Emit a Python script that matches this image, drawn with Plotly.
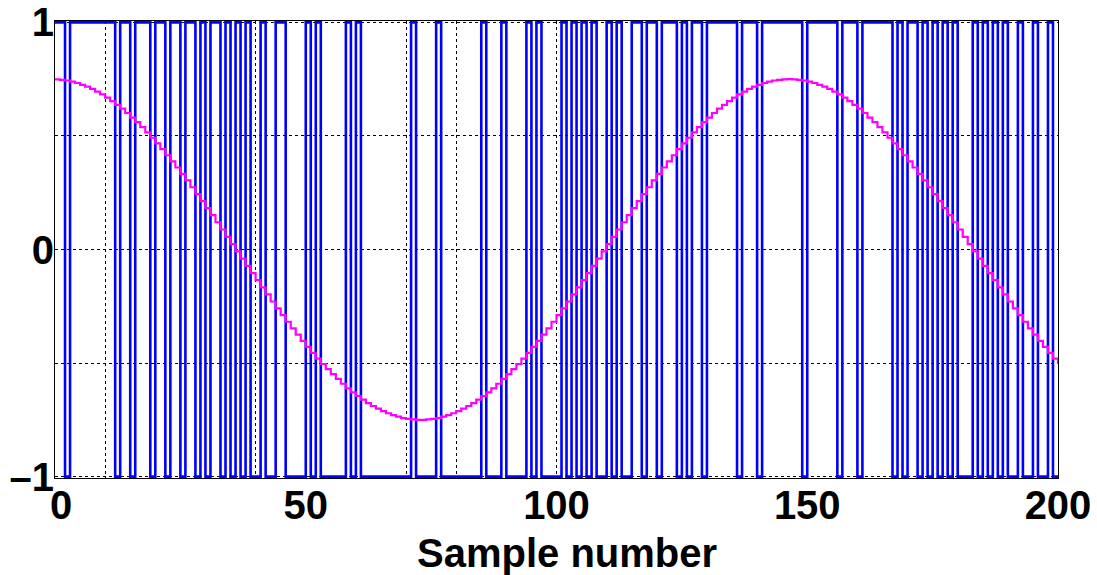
import plotly.graph_objects as go

# sample index
samples = list(range(201))

# 1-bit modulator output
bits = [
    1, 1, -1, 1, 1, 1, 1, 1, 1, 1, 1, 1, -1, 1, 1, -1, 1, 1, 1, -1,
    1, 1, -1, 1, 1, -1, 1, 1, -1, 1, -1, 1, 1, -1, 1, -1, 1, -1, 1, -1,
    -1, 1, -1, -1, 1, 1, -1, -1, -1, -1, 1, -1, 1, -1, -1, -1, -1, -1, 1, -1,
    1, -1, -1, -1, -1, -1, -1, -1, -1, -1, -1, 1, -1, -1, -1, -1, 1, -1, -1, -1,
    -1, -1, -1, -1, -1, 1, -1, -1, -1, 1, -1, -1, -1, -1, 1, -1, 1, -1, -1, -1,
    -1, 1, -1, 1, -1, 1, -1, 1, -1, -1, 1, -1, 1, -1, -1, 1, 1, -1, 1, 1,
    -1, 1, 1, 1, -1, 1, -1, 1, 1, -1, 1, 1, 1, 1, 1, 1, -1, 1, 1, 1,
    -1, 1, 1, 1, 1, 1, 1, 1, 1, -1, 1, 1, 1, 1, 1, 1, -1, 1, 1, 1,
    -1, 1, 1, 1, 1, 1, 1, -1, 1, -1, 1, 1, -1, 1, -1, 1, -1, 1, -1, 1,
    -1, -1, -1, 1, -1, 1, -1, 1, -1, 1, -1, -1, 1, -1, -1, 1, -1, -1, 1, -1,
    -1,
]

# input signal samples
signal = [
    0.749, 0.747, 0.744, 0.739, 0.733, 0.725, 0.717, 0.707, 0.695, 0.683,
    0.669, 0.653, 0.637, 0.620, 0.601, 0.581, 0.561, 0.539, 0.516, 0.492,
    0.467, 0.442, 0.415, 0.388, 0.361, 0.333, 0.304, 0.274, 0.244, 0.213,
    0.182, 0.151, 0.120, 0.088, 0.056, 0.024, -0.008, -0.040, -0.072, -0.104,
    -0.135, -0.167, -0.198, -0.229, -0.259, -0.289, -0.318, -0.347, -0.375, -0.402,
    -0.429, -0.455, -0.480, -0.504, -0.527, -0.549, -0.570, -0.591, -0.611, -0.629,
    -0.645, -0.661, -0.676, -0.689, -0.701, -0.712, -0.721, -0.729, -0.736, -0.742,
    -0.746, -0.748, -0.750, -0.750, -0.748, -0.746, -0.742, -0.736, -0.729, -0.721,
    -0.712, -0.701, -0.689, -0.676, -0.661, -0.645, -0.629, -0.611, -0.591, -0.570,
    -0.549, -0.527, -0.504, -0.480, -0.455, -0.429, -0.402, -0.375, -0.347, -0.318,
    -0.289, -0.259, -0.229, -0.198, -0.167, -0.135, -0.104, -0.072, -0.040, -0.008,
    0.024, 0.056, 0.088, 0.120, 0.151, 0.182, 0.213, 0.244, 0.274, 0.304,
    0.333, 0.361, 0.388, 0.415, 0.442, 0.467, 0.492, 0.516, 0.539, 0.561,
    0.581, 0.601, 0.620, 0.637, 0.653, 0.669, 0.683, 0.695, 0.707, 0.717,
    0.725, 0.733, 0.739, 0.744, 0.747, 0.749, 0.750, 0.749, 0.747, 0.744,
    0.739, 0.733, 0.725, 0.717, 0.707, 0.695, 0.683, 0.669, 0.653, 0.637,
    0.620, 0.601, 0.581, 0.561, 0.539, 0.516, 0.492, 0.467, 0.442, 0.415,
    0.388, 0.361, 0.333, 0.304, 0.274, 0.244, 0.213, 0.182, 0.151, 0.120,
    0.088, 0.056, 0.024, -0.008, -0.040, -0.072, -0.104, -0.135, -0.167, -0.198,
    -0.229, -0.259, -0.289, -0.318, -0.347, -0.375, -0.402, -0.429, -0.455, -0.480,
    -0.504,
]

x_tickvals = list(range(0, 201, 10))
x_labels = {0: "0", 50: "50", 100: "100", 150: "150", 200: "200"}
# the "0" label sits a little right of its tick in the reference; drawn as an annotation
x_ticktext = [x_labels.get(v, "") if v != 0 else "" for v in x_tickvals]
y_tickvals = [-1, -0.5, 0, 0.5, 1]
y_ticktext = ["\u20131", "", "0", "", "1"]
x_title = "Sample number"

FONT = "Liberation Sans, Arial, Helvetica, sans-serif"

fig = go.Figure()
fig.add_trace(go.Scatter(
    x=samples, y=bits, mode="lines", line=dict(shape="hv", color="#0000ff", width=2.6),
    showlegend=False, hoverinfo="skip",
))
fig.add_trace(go.Scatter(
    x=samples, y=signal, mode="lines", line=dict(shape="hv", color="#ff00ff", width=2.2),
    showlegend=False, hoverinfo="skip",
))

fig.update_layout(
    width=1097, height=575,
    margin=dict(l=55, r=39, t=21, b=97, autoexpand=False),
    paper_bgcolor="white", plot_bgcolor="white",
    font=dict(family=FONT, size=40, color="black", weight="bold"),
    xaxis=dict(
        range=[0, 200], tickvals=x_tickvals, ticktext=x_ticktext,
        showline=True, mirror=True, linecolor="black", linewidth=1,
        showgrid=True, gridcolor="black", griddash="dot", gridwidth=1,
        zeroline=False, ticks="", ticklabelstandoff=-8, automargin=False,
        tickfont=dict(family=FONT, size=40, weight="bold"),
    ),
    yaxis=dict(
        range=[-1.006, 1.006], tickvals=y_tickvals, ticktext=y_ticktext,
        showline=True, mirror=True, linecolor="black", linewidth=1,
        showgrid=True, gridcolor="black", griddash="dot", gridwidth=1,
        zeroline=False, ticks="", ticklabelstandoff=-8, automargin=False,
        tickfont=dict(family=FONT, size=40, weight="bold"),
    ),
    annotations=[
        dict(
            text=x_labels[0], xref="x", yref="paper", x=0, y=-0.059, xshift=6,
            xanchor="center", yanchor="middle", showarrow=False,
            font=dict(family=FONT, size=40, weight="bold", color="black"),
        ),
        dict(
            text=x_title, xref="paper", yref="paper", x=0.5105, y=-0.164,
            xanchor="center", yanchor="middle", showarrow=False,
            font=dict(family=FONT, size=40, weight="bold", color="black"),
        ),
    ],
)

fig.write_html("out.html")
